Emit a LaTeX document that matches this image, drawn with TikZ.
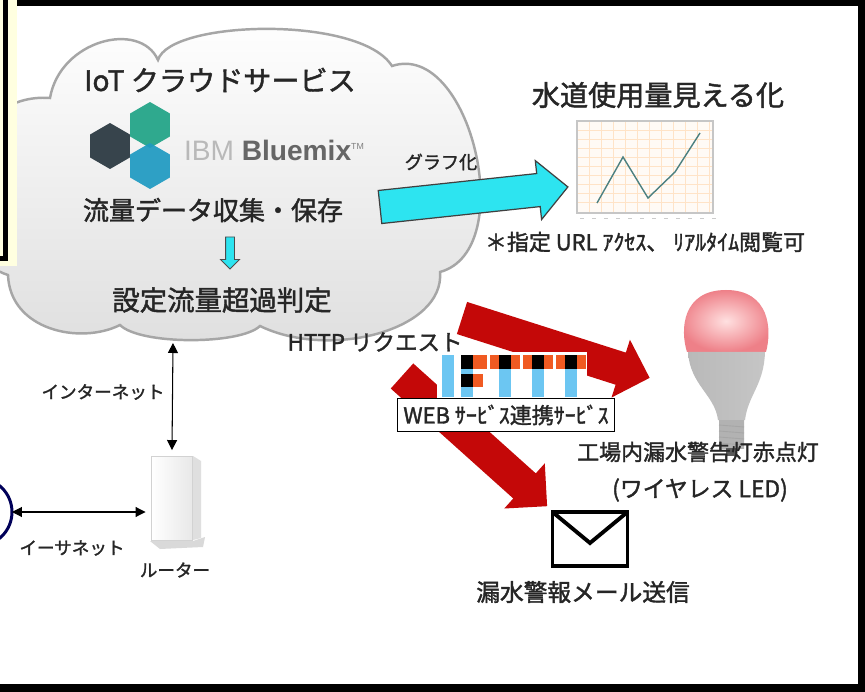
\documentclass[tikz,border=0pt]{standalone}
\usepackage{fontspec}
\setmainfont{Noto Sans CJK JP}[FakeBold=1.6]
\newfontfamily\logofont{Liberation Sans}
\usetikzlibrary{shapes.arrows, shapes.geometric, arrows.meta, positioning}

\definecolor{cloudline}{HTML}{A6A6A6}
\definecolor{cyanarrow}{HTML}{2DE4F0}
\definecolor{alertred}{HTML}{C40808}
\definecolor{iftttblue}{HTML}{6CC6F2}
\definecolor{iftttorange}{HTML}{F05A22}
\definecolor{hexdark}{HTML}{37444C}
\definecolor{hexgreen}{HTML}{1FA386}
\definecolor{hexblue}{HTML}{1E9AC2}
\definecolor{memo}{HTML}{FFFFE0}
\definecolor{ink}{HTML}{262626}
\definecolor{lamppink}{HTML}{EE8088}

\begin{document}
\begin{tikzpicture}[x=0.02cm, y=-0.02cm, line join=miter,
    every node/.style={inner sep=0pt, outer sep=0pt, text=ink},
    txt/.style={font=\fontsize{#1}{#1}\selectfont},
    blockarrow/.style={single arrow, anchor=tail, inner xsep=0pt},
    netlink/.style={{Triangle[length=0.2cm,width=0.2cm]}-{Triangle[length=0.2cm,width=0.2cm]}, line width=0.6pt},
    hexa/.style={regular polygon, regular polygon sides=6, shape border rotate=30, minimum size=0.92cm}]

	\clip (0,0) rectangle (865,692);

	% black frame
	\fill[black] (0,0) rectangle (865,692);
	\fill[white] (0,6) rectangle (858,684);

	% cloud
	\path[draw=cloudline, line width=1.4pt, top color=white, middle color=white, bottom color=black!13]
		(-20,180) .. controls (-30,120) and (10,95) .. (50,98)
		.. controls (60,40) and (140,20) .. (158,60)
		.. controls (170,20) and (360,15) .. (392,66)
		.. controls (470,40) and (520,250) .. (440,272)
		.. controls (445,330) and (330,360) .. (260,326)
		.. controls (240,345) and (140,345) .. (120,325)
		.. controls (80,345) and (10,330) .. (8,275)
		.. controls (-40,260) and (-40,190) .. cycle;

	% memo box at the left edge
	\fill[memo] (-5,-5) rectangle (17,266);
	\draw[line width=2.8pt, fill=memo] (-20,-20) rectangle (5.5,258.5);

	% inside the cloud
	\node[txt=16] (service) at (220,80) {IoT クラウドサービス};
	\node[hexa, fill=hexdark] (hexA) at (110,146) {};
	\node[hexa, fill=hexgreen, opacity=0.92] (hexB) at (150,125) {};
	\node[hexa, fill=hexblue, opacity=0.92] (hexC) at (150,166) {};
	\node[anchor=west, font=\logofont\fontsize{16}{16}\selectfont] (brand) at (184,150)
		{\textcolor{gray!55}{IBM} \textcolor{black!60}{\bfseries Bluemix}\textsuperscript{\textcolor{gray}{\fontsize{5}{5}\selectfont TM}}};
	\node[txt=14.8] (collect) at (213,210) {流量データ収集・保存};
	\node[blockarrow, rotate=-90, fill=cyanarrow, draw=black!70, line width=0.5pt,
		minimum height=0.64cm, inner ysep=0.08cm, single arrow head extend=0.1cm] (judgearrow) at (230,237) {};
	\node[txt=15.6] (judge) at (222,300) {設定流量超過判定};

	% graph output
	\node[txt=10.3] (graphlabel) at (441,162) {グラフ化};
	\node[blockarrow, rotate=6.1, fill=cyanarrow, draw=black!75, line width=0.7pt,
		minimum height=3.78cm, inner ysep=0.32cm, single arrow head extend=0.26cm] (grapharrow) at (380,207) {};
	\node[txt=16] (charttitle) at (658,95) {水道使用量見える化};
	\fill[orange!4] (577,121) rectangle (713,213);
	\foreach \gx in {589,601,...,709} \draw[orange!22, line width=0.3pt] (\gx,121) -- (\gx,213);
	\foreach \gy in {130,139,...,210} \draw[orange!22, line width=0.3pt] (577,\gy) -- (713,\gy);
	\draw[gray!45, line width=0.6pt] (577,121) rectangle (713,213);
	\draw[gray!60!teal, line width=0.8pt] (597,203) -- (623,157) -- (648,198) -- (675,172) -- (700,133);
	\foreach \gx in {580,592,...,712} \draw[gray!40, line width=0.5pt] (\gx,218) -- +(4,0);
	\node[txt=12.5] (urlnote) at (645,242) {＊指定 URL ｱｸｾｽ、 ﾘｱﾙﾀｲﾑ閲覧可};

	% HTTP request to IFTTT
	\node[txt=12.8] (http) at (375,342) {HTTP リクエスト};
	\node[blockarrow, rotate=-17.7, fill=alertred, minimum height=3.94cm, inner ysep=0.33cm,
		single arrow head extend=0.27cm] (tolamp) at (462,318) {};
	\node[blockarrow, rotate=-41.9, fill=alertred, minimum height=3.9cm, inner ysep=0.33cm,
		single arrow head extend=0.27cm] (tomail) at (402,376) {};
	\node[fill=white, minimum width=3.02cm, minimum height=0.96cm] (ifttt) at (512,376) {};
	\fill[iftttblue] (442,355) rectangle (454,397);
	\fill[iftttblue] (461,355) rectangle (473,397);
	\fill[black] (461,355) rectangle (473,369);
	\fill[iftttorange] (473,355) rectangle (487,369);
	\fill[black] (461,374) rectangle (473,387);
	\fill[iftttorange] (473,374) rectangle (483,387);
	\foreach \tx in {505,538,571} {
		\fill[iftttblue] (\tx-6,369) rectangle (\tx+6,397);
		\fill[iftttorange] (\tx-15,355) rectangle (\tx+15,369);
		\fill[black] (\tx-6,355) rectangle (\tx+6,369);
	}
	\node[draw, fill=white, line width=0.6pt, minimum width=4.34cm, minimum height=0.66cm, txt=12.5] (webservice) at (506,415) {WEB ｻｰﾋﾞｽ連携ｻｰﾋﾞｽ};

	% LED lamp
	\shade[inner color=red!12!white, outer color=lamppink] (687,352) .. controls (680,330) and (682,290) .. (726,290)
		.. controls (770,290) and (772,330) .. (766,352) -- cycle;
	\shade[left color=gray!55, middle color=white, right color=gray!45] (688,352) .. controls (690,385) and (715,395) .. (718,420)
		-- (745,420) .. controls (748,395) and (764,385) .. (765,352) -- cycle;
	\shade[left color=gray!60, middle color=gray!10, right color=gray!60] (719,420) rectangle (744,448);
	\foreach \sy in {425,431,...,445} \draw[gray!70, line width=0.5pt] (719,\sy) -- (744,\sy+2);
	\fill[gray!70!black] (726,448) rectangle (737,456);
	\node[txt=12.5] (lamp) at (698,452) {工場内漏水警告灯赤点灯};
	\node[txt=13] (wireless) at (700,490) {(ワイヤレス LED)};

	% mail
	\node[draw=black, line width=2.2pt, minimum width=1.5cm, minimum height=1.08cm] (mail) at (590,539) {};
	\draw[line width=2.2pt] (mail.north west) -- ([yshift=-0.08cm]mail.center) -- (mail.north east);
	\node[txt=13.5] (mailsend) at (583,592) {漏水警報メール送信};

	% router and links
	\coordinate (cloudfoot) at (173,343);
	\node[draw=gray!35, left color=white, right color=gray!18, minimum width=0.82cm, minimum height=1.68cm,
		outer sep=3.4pt] (router) at (172,498) {};
	\fill[gray!25] (193,456) -- (201,461) -- (201,538) -- (193,540) -- cycle;
	\fill[gray!30] (150,541) -- (193,541) -- (205,537) -- (203,547) -- (160,549) -- cycle;
	\node[circle, draw=blue!35!black, line width=1.7pt, minimum size=1.36cm] (pc) at (-22,512) {};
	\draw[netlink] (cloudfoot) -- (router.north);
	\draw[netlink] (pc.east) -- (pc.east -| router.west);
	\node[txt=10] (internet) at (103,392) {インターネット};
	\node[txt=10] (ethernet) at (72,548) {イーサネット};
	\node[txt=10] (routerlabel) at (175,570) {ルーター};
\end{tikzpicture}
\end{document}
